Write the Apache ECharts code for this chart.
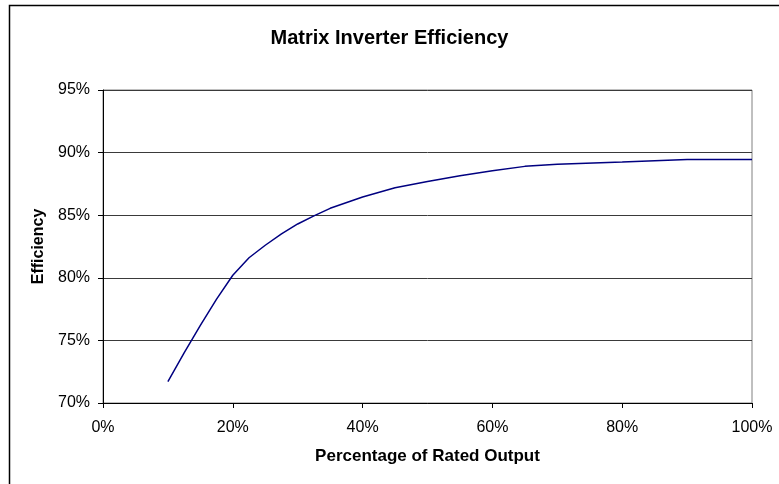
<!DOCTYPE html>
<html>
<head>
<meta charset="utf-8">
<title>Matrix Inverter Efficiency</title>
<script src="https://cdn.jsdelivr.net/npm/echarts@6/dist/echarts.min.js"></script>
<style>
  html, body { margin: 0; padding: 0; background: #fff; }
  #chart { width: 779px; height: 484px; }
</style>
</head>
<body>
<div id="chart"></div>
<script>
// percentage of rated output (%)
const outputPct = [10, 12.5, 15, 17.5, 20, 22.5, 25, 27.5, 30, 32.5, 35, 40, 45, 50, 55, 60, 65, 70, 80, 90, 100]
// efficiency (%)
const efficiency = [71.7, 74.0, 76.2, 78.3, 80.2, 81.6, 82.6, 83.5, 84.3, 84.95, 85.55, 86.45, 87.2, 87.7, 88.15, 88.55, 88.9, 89.07, 89.25, 89.45, 89.45]

const xTicks = { min: 0, max: 100, interval: 20 }
const yTicks = { min: 70, max: 95, interval: 5 }

const font = 'Liberation Sans, Arial, sans-serif'

const chart = echarts.init(document.getElementById('chart'))

chart.setOption({
  animation: false,
  backgroundColor: '#fff',
  title: {
    text: 'Matrix Inverter Efficiency',
    left: 'center',
    top: 23,
    textStyle: { fontFamily: font, fontSize: 20, fontWeight: 'bold', color: '#000' }
  },
  // outer frame (only top and left edges are inside the picture)
  graphic: [
    {
      type: 'rect',
      shape: { x: 9.5, y: 5.5, width: 820, height: 520 },
      style: { fill: null, stroke: '#000', lineWidth: 1.5 },
      silent: true
    }
  ],
  grid: {
    left: 103,
    right: 27,
    top: 90,
    bottom: 81,
    show: true,
    borderColor: '#808080',
    borderWidth: 1
  },
  xAxis: {
    type: 'value',
    min: xTicks.min,
    max: xTicks.max,
    interval: xTicks.interval,
    name: 'Percentage of Rated Output',
    nameLocation: 'middle',
    nameGap: 45,
    nameTextStyle: { fontFamily: font, fontSize: 17, fontWeight: 'bold', color: '#000' },
    axisLine: { lineStyle: { color: '#000', width: 1 } },
    axisTick: { show: true, length: 5, lineStyle: { color: '#000' } },
    axisLabel: { formatter: '{value}%', margin: 17, fontFamily: font, fontSize: 16, color: '#000' },
    splitLine: { show: false }
  },
  yAxis: {
    type: 'value',
    min: yTicks.min,
    max: yTicks.max,
    interval: yTicks.interval,
    name: 'Efficiency',
    nameLocation: 'middle',
    nameGap: 56,
    nameRotate: 90,
    nameTextStyle: { fontFamily: font, fontSize: 16, fontWeight: 'bold', color: '#000' },
    axisLine: { show: true, lineStyle: { color: '#000', width: 1 } },
    axisTick: { show: true, length: 5, lineStyle: { color: '#000' } },
    axisLabel: { formatter: '{value}%', margin: 13, fontFamily: font, fontSize: 16, color: '#000' },
    splitLine: { show: true, lineStyle: { color: '#3a3a3a', width: 1 } }
  },
  series: [
    {
      type: 'line',
      data: outputPct.map((x, i) => [x, efficiency[i]]),
      showSymbol: false,
      symbol: 'none',
      lineStyle: { color: '#000080', width: 1.5 }
    }
  ]
})
</script>
</body>
</html>
